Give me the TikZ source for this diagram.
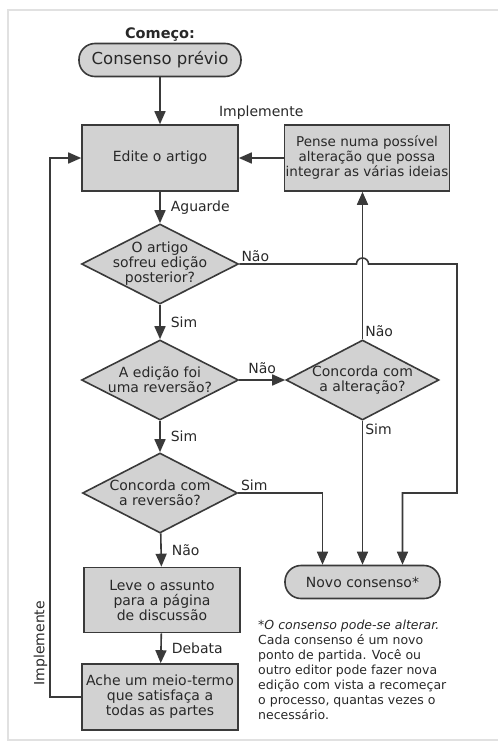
\documentclass[tikz,border=0pt]{standalone}
\usepackage{fontspec}
\setmainfont{DejaVu Sans}
\usetikzlibrary{arrows.meta,shapes.geometric,calc}
\definecolor{boxgray}{RGB}{210,210,210}
\definecolor{linegray}{RGB}{58,58,58}
\definecolor{txtgray}{RGB}{40,40,40}
\definecolor{framegray}{RGB}{225,225,225}
\newcommand{\boxfont}{\fontsize{14}{15}\selectfont}
\newcommand{\notefont}{\fontsize{12.5}{15}\selectfont}

\begin{document}
\begin{tikzpicture}[x=1pt,y=-1pt,
        every node/.style={text=txtgray},
        flow/.style={draw=linegray,line width=1.6pt,-{Triangle[length=13pt,width=11pt]}},
        box/.style={draw=linegray,line width=1.6pt,fill=boxgray,font=\boxfont,align=center,
            minimum width=156pt,minimum height=66pt,inner sep=1pt},
        term/.style={box,rounded corners=16pt,minimum height=33pt},
        decision/.style={draw=linegray,line width=1.6pt,fill=boxgray,diamond,inner sep=0pt,
            minimum width=157pt,minimum height=80pt},
        lbl/.style={font=\boxfont,inner sep=2pt}]

        \useasboundingbox (0,0) rectangle (498,742);
        \draw[framegray,line width=1.5pt] (498,10) -- (8,10) -- (8,740) -- (498,740);

        % nodes
        \node[font=\bfseries\fontsize{14.5}{16}\selectfont] (comeco) at (160,35) {Começo:};
        \node[term,minimum width=162pt,font=\fontsize{16.5}{18}\selectfont] (inicio) at (160,60) {Consenso prévio};
        \node[box] (edite) at (160,158) {Edite o artigo};
        \node[box,minimum width=165pt,inner sep=0pt,font=\fontsize{13.5}{15}\selectfont] (pense) at (367,158)
            {Pense numa possível\\alteração que possa\\integrar as várias ideias};
        \node[decision,label={[lbl,align=center]center:{O artigo\\sofreu edição\\posterior?}}] (q1) at (160,264) {};
        \node[decision,label={[lbl,align=center]center:{A edição foi\\uma reversão?}}] (q2) at (160,380) {};
        \node[decision,minimum width=153pt,label={[lbl,align=center]center:{Concorda com\\a alteração?}}] (q3) at (362.5,380) {};
        \node[decision,minimum width=155pt,label={[lbl,align=center]center:{Concorda com\\a reversão?}}] (q4) at (160,493) {};
        \node[term,minimum width=155pt] (novo) at (362.5,582) {Novo consenso*};
        \node[box,minimum height=65pt] (leve) at (162,600) {Leve o assunto\\para a página\\de discussão};
        \node[box] (ache) at (160,697) {Ache um meio-termo\\que satisfaça a\\todas as partes};
        \node[font=\notefont,align=left,anchor=north west,inner sep=0pt] (nota) at (258,620)
            {\textit{*O consenso pode-se alterar.}\\Cada consenso é um novo\\ponto de partida. Você ou\\outro editor pode fazer nova\\edição com vista a recomeçar\\o processo, quantas vezes o\\necessário.};

        \coordinate (hop) at (q3.north |- q1.east);
        \coordinate (rim) at (457,493);
        \coordinate (back) at (50,0);

        % connectors
        \draw[flow] (inicio) -- (edite);
        \draw[flow] (pense) -- (edite) node[lbl,midway,above=36pt] {Implemente};
        \draw[flow] (edite) -- (q1) node[lbl,midway,right=8pt] {Aguarde};
        \draw[flow] (q1) -- (q2) node[lbl,midway,right=8pt] {Sim};
        \draw[flow] (q2) -- (q3) node[lbl,midway,above=4pt] {Não};
        \draw[flow] (q2) -- (q4) node[lbl,midway,right=8pt] {Sim};
        \draw[flow] (q4) -- (leve) node[lbl,midway,right=8pt] {Não};
        \draw[flow] (leve) -- (ache) node[lbl,midway,right=8pt] {Debata};
        \draw[flow] (q3.north) -- (q3.north |- pense.south) node[lbl,at start,above right] {Não};
        \draw[flow] (q3.south) -- (q3.south |- novo.north) node[lbl,at start,below right] {Sim};
        \draw[flow] (q4.east) -| ($(novo.north)+(-40,0)$) node[lbl,at start,above right] {Sim};
        \draw[flow] (q1.east) -- ($(hop)+(-6,0)$) arc[start angle=180,end angle=360,radius=6]
            -- (q1.east -| rim) -- (rim) -| ($(novo.north)+(40,0)$);
        \node[lbl,above right] at (q1.east) {Não};
        \draw[flow] (ache.west) -- (ache.west -| back)
            -- (edite.west -| back) node[lbl,pos=0.1,rotate=90,above] {Implemente}
            -- (edite.west);
    \end{tikzpicture}
\end{document}
